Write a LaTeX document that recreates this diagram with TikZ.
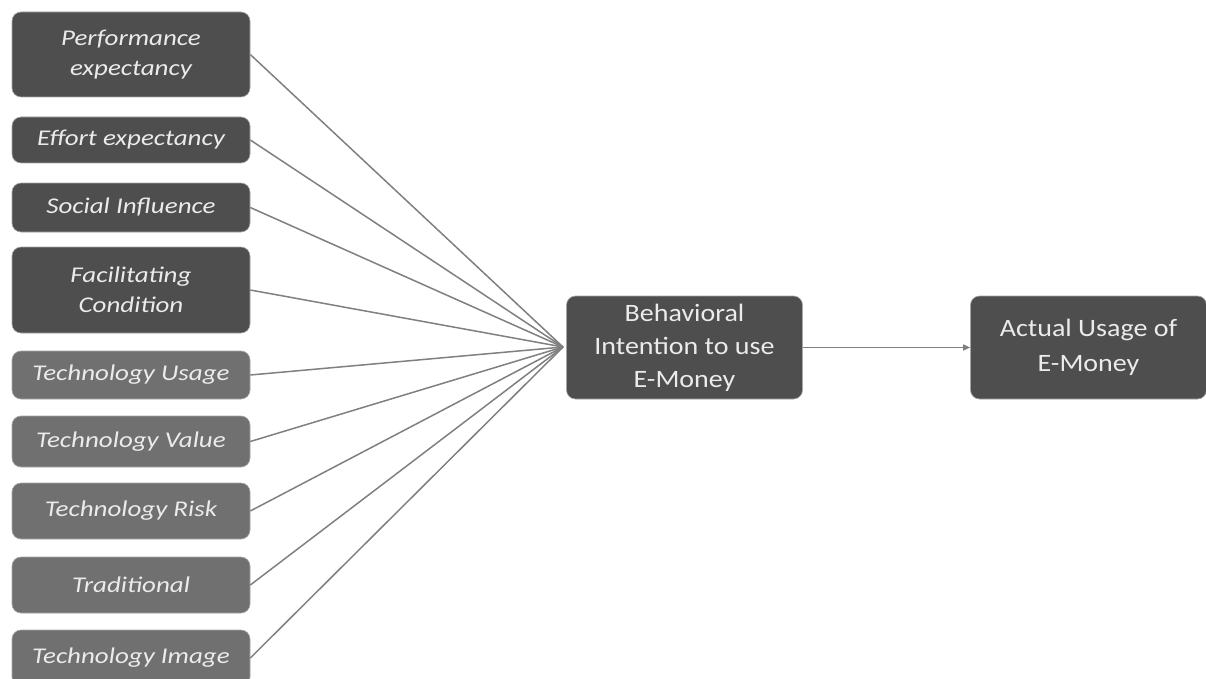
\documentclass[tikz,border=0pt]{standalone}
\usepackage{fontspec}
\setmainfont{Carlito}[FakeStretch=1.12]
\newfontfamily\leftfont{Carlito}[FakeStretch=1.2]
\usetikzlibrary{arrows.meta}
\definecolor{darkbox}{HTML}{4E4E4E}
\definecolor{lightbox}{HTML}{707070}
\definecolor{boxtext}{HTML}{EBEBEB}
\definecolor{linecol}{HTML}{808080}
\tikzset{
  base/.style={rectangle, rounded corners=9pt, text=boxtext, align=center, inner sep=2pt,
    draw=black!35, line width=0.6pt},
  leftdark/.style={base, fill=darkbox, minimum width=238pt, font=\leftfont\fontsize{22.5}{30}\selectfont\itshape},
  leftlight/.style={base, fill=lightbox, minimum width=238pt, font=\leftfont\fontsize{22.5}{30}\selectfont\itshape},
  midbox/.style={base, fill=darkbox, minimum width=236pt, minimum height=103pt, font=\fontsize{25}{33}\selectfont},
  endbox/.style={base, fill=darkbox, minimum width=236pt, minimum height=103pt, font=\fontsize{25}{35}\selectfont},
  conn/.style={draw=linecol, line width=1.5pt},
}
\begin{document}
\begin{tikzpicture}[x=1pt,y=-1pt]
\useasboundingbox (0,0) rectangle (1206,679);
\clip (0,0) rectangle (1206,679);
\fill[white] (0,0) rectangle (1206,679);
\node[leftdark, minimum height=85pt] (pe) at (131,54.5) {Performance\\expectancy};
\node[leftdark, minimum height=46pt] (ee) at (131,140) {Effort expectancy};
\node[leftdark, minimum height=49pt] (si) at (131,207.5) {Social Influence};
\node[leftdark, minimum height=86pt] (fc) at (131,290) {Facilitating\\Condition};
\node[leftlight, minimum height=48pt] (tu) at (131,375) {Technology Usage};
\node[leftlight, minimum height=51pt] (tv) at (131,441.5) {Technology Value};
\node[leftlight, minimum height=56pt] (tr) at (131,511) {Technology Risk};
\node[leftlight, minimum height=56pt] (tt) at (131,585) {Traditional};
\node[leftlight, minimum height=56pt] (ti) at (131,658) {Technology Image};
\node[midbox] (bi) at (684.5,347.5) {Behavioral\\Intention to use\\E-Money};
\node[endbox] (au) at (1088.5,347.5) {Actual Usage of\\E-Money};
\coordinate (cv) at (563,347);
\foreach \n in {pe,ee,si,fc,tu,tv,tr,tt,ti}{
  \draw[conn] (\n.east) -- (cv);
}
\draw[conn, -{Triangle[length=7pt,width=6pt]}] (bi.east) -- (au.west);
\end{tikzpicture}
\end{document}
